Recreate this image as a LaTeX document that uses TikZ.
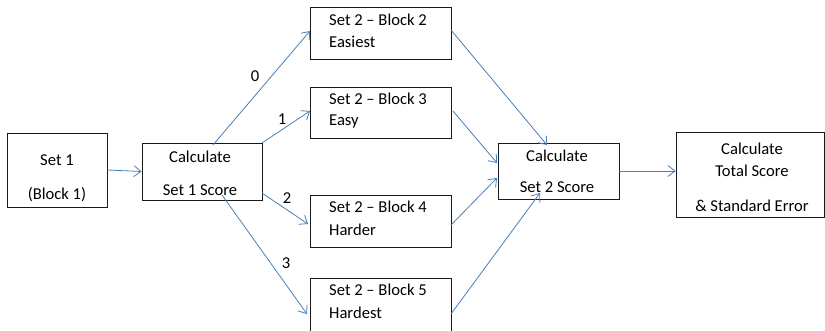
\documentclass[tikz,border=0pt]{standalone}
\usepackage{fontspec}
\setmainfont{Carlito}
\usetikzlibrary{arrows.meta}
\definecolor{arrowblue}{HTML}{4A7EBB}
\begin{document}
\begin{tikzpicture}[x=1pt,y=-1pt,
  box/.style={draw=black!90,line width=0.9pt,inner sep=0pt},
  txt/.style={inner sep=0pt,font=\fontsize{16.6}{18}\selectfont},
  ltxt/.style={txt,anchor=west},
  conn/.style={draw=arrowblue,line width=0.8pt,-{Straight Barb[length=7pt,width=11pt,line width=0.8pt]}},
  lbl/.style={txt}]
\clip (0,0) rectangle (825,330);
\fill[white] (0,0) rectangle (825,330);
% boxes
\node[box,minimum width=100pt,minimum height=74pt] (s1) at (57,170) {};
\node[box,minimum width=120pt,minimum height=57pt] (c1) at (202,171.5) {};
\node[box,minimum width=141pt,minimum height=52pt] (b2) at (380.5,33) {};
\node[box,minimum width=141pt,minimum height=51pt] (b3) at (380.5,112.5) {};
\node[box,minimum width=141pt,minimum height=52pt] (b4) at (380.5,221) {};
\node[box,minimum width=141pt,minimum height=70pt] (b5) at (380.5,313) {};
\node[box,minimum width=121pt,minimum height=56pt] (c2) at (558.5,171) {};
\node[box,minimum width=148pt,minimum height=85pt] (tot) at (750,174.5) {};
% texts
\node[txt] (s1a) at (57,160) {Set 1};
\node[txt] (s1b) at (57,195) {(Block 1)};
\node[txt] (c1a) at (200,157) {Calculate};
\node[txt] (c1b) at (200,190) {Set 1 Score};
\node[ltxt] (b2a) at (329,20) {Set 2 – Block 2};
\node[ltxt] (b2b) at (329,42) {Easiest};
\node[ltxt] (b3a) at (329,99) {Set 2 – Block 3};
\node[ltxt] (b3b) at (329,122) {Easy};
\node[ltxt] (b4a) at (329,207) {Set 2 – Block 4};
\node[ltxt] (b4b) at (329,230) {Harder};
\node[ltxt] (b5a) at (329,290) {Set 2 – Block 5};
\node[ltxt] (b5b) at (329,313) {Hardest};
\node[txt] (c2a) at (557,156) {Calculate};
\node[txt] (c2b) at (557,187) {Set 2 Score};
\node[txt] (ta) at (752,149) {Calculate};
\node[txt] (tb) at (752,171) {Total Score};
\node[txt] (tc) at (752,206) {\& Standard Error};
% connector anchor points
\coordinate (p0s) at (213,145);
\coordinate (p0e) at (310,31);
\coordinate (p1s) at (262,143);
\coordinate (p1e) at (310,111);
\coordinate (p2s) at (262,193);
\coordinate (p2e) at (308,224);
\coordinate (p3s) at (222,195);
\coordinate (p3e) at (307,314);
\coordinate (q2s) at (451,30);
\coordinate (q2e) at (547,145);
\coordinate (q3s) at (453,111);
\coordinate (q3e) at (497,163);
\coordinate (q4s) at (451,225);
\coordinate (q4e) at (497,178);
\coordinate (q5s) at (451,314);
\coordinate (q5e) at (540,193);
% connectors
\draw[conn] (s1.east) -- (c1.west);
\draw[conn] (p0s) -- (p0e);
\draw[conn] (p1s) -- (p1e);
\draw[conn] (p2s) -- (p2e);
\draw[conn] (p3s) -- (p3e);
\draw[conn] (q2s) -- (q2e);
\draw[conn] (q3s) -- (q3e);
\draw[conn] (q4s) -- (q4e);
\draw[conn] (q5s) -- (q5e);
\draw[conn] (c2.east) -- (tot.west |- c2.east);
% labels
\node[lbl] (l0) at (255,76) {0};
\node[lbl] (l1) at (282,119) {1};
\node[lbl] (l2) at (287,198) {2};
\node[lbl] (l3) at (286,263) {3};
\end{tikzpicture}
\end{document}
